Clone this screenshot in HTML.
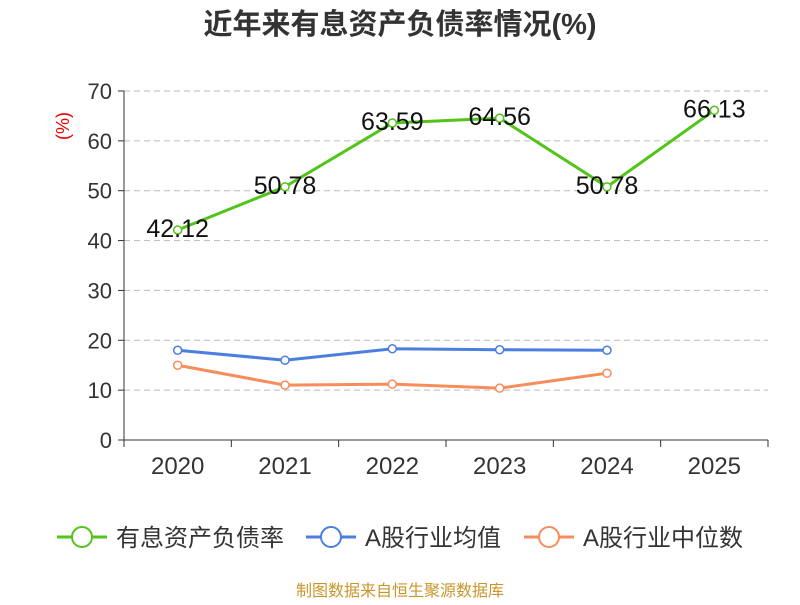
<!DOCTYPE html>
<html><head><meta charset="utf-8"><style>
body{margin:0;background:#fff;font-family:"Liberation Sans","Noto Sans CJK SC",sans-serif}
</style></head><body>
<svg id="c" width="800" height="600" xmlns="http://www.w3.org/2000/svg" font-family="Liberation Sans, Noto Sans CJK SC, sans-serif">
<text x="400" y="34" text-anchor="middle" font-size="29" font-weight="bold" fill="#333">近年来有息资产负债率情况(%)</text>
<text transform="translate(69,126) rotate(-90)" text-anchor="middle" font-size="18" fill="#e00">(%)</text>
<g id="grid"></g><g id="axes"></g><g id="series"></g>
<g font-size="24" fill="#333">
<g><line x1="57" y1="537" x2="107" y2="537" stroke="#52c41a" stroke-width="3"/><circle cx="82" cy="537" r="10" fill="#fff" stroke="#52c41a" stroke-width="2"/><text x="116" y="546">有息资产负债率</text></g>
<g><line x1="306" y1="537" x2="356" y2="537" stroke="#4a7fe0" stroke-width="3"/><circle cx="331" cy="537" r="10" fill="#fff" stroke="#4a7fe0" stroke-width="2"/><text x="365" y="546">A股行业均值</text></g>
<g><line x1="524" y1="537" x2="574" y2="537" stroke="#f88c5a" stroke-width="3"/><circle cx="549" cy="537" r="10" fill="#fff" stroke="#f88c5a" stroke-width="2"/><text x="583" y="546">A股行业中位数</text></g>
</g>
<text x="400" y="596" text-anchor="middle" font-size="16" fill="#c8962a">制图数据来自恒生聚源数据库</text>
</svg>
<script>
const categories=["2020","2021","2022","2023","2024","2025"];
const debtRatio=[42.12,50.78,63.59,64.56,50.78,66.13];
const industryMean=[18.0,16.0,18.3,18.1,18.0];
const industryMedian=[15.0,11.0,11.2,10.4,13.4];
const yTicks=[0,10,20,30,40,50,60,70];
const NS="http://www.w3.org/2000/svg";
const x0=124,x1=768,y0=440,yTop=91,yMax=70;
const bw=(x1-x0)/categories.length;
const xs=i=>x0+bw*(i+0.5);
const ys=v=>y0-(v/yMax)*(y0-yTop);
function mk(p,tag,a){const e=document.createElementNS(NS,tag);for(const k in a)e.setAttribute(k,a[k]);p.appendChild(e);return e;}
const grid=document.getElementById('grid'),axes=document.getElementById('axes'),ser=document.getElementById('series');
yTicks.forEach(t=>{
 if(t>0){const g=mk(grid,'line',{x1:x0,x2:x1,y1:ys(t),y2:ys(t),stroke:'#bbb','stroke-dasharray':'6,4'});
 
 }
 const tk=mk(axes,'line',{x1:x0-6,x2:x0,y1:ys(t),y2:ys(t),stroke:'#333'});
 
 
 const l=mk(axes,'text',{x:x0-12,y:ys(t)+8,'text-anchor':'end','font-size':22,fill:'#333'});l.textContent=t;
 
 
});
const ya=mk(axes,'line',{x1:x0,x2:x0,y1:yTop,y2:y0,stroke:'#333'});


const xa=mk(axes,'line',{x1:x0,x2:x1,y1:y0,y2:y0,stroke:'#333'});


for(let i=0;i<=categories.length;i++){const t=mk(axes,'line',{x1:x0+bw*i,x2:x0+bw*i,y1:y0,y2:y0+7,stroke:'#333'});
 
 }
categories.forEach((c,i)=>{const l=mk(axes,'text',{x:xs(i),y:474,'text-anchor':'middle','font-size':24,fill:'#333'});l.textContent=c;
 
 });
function series(vals,color,name,labels){
 const pts=vals.map((v,i)=>xs(i)+','+ys(v)).join(' ');
 const pl=mk(ser,'polyline',{points:pts,fill:'none',stroke:color,'stroke-width':3});
 
 
 vals.forEach((v,i)=>{const c=mk(ser,'circle',{cx:xs(i),cy:ys(v),r:4,fill:'#fff',stroke:color,'stroke-width':1.5});
  
  
  if(labels){const t=mk(ser,'text',{x:xs(i),y:ys(v)+7,'text-anchor':'middle','font-size':25,fill:'#111'});t.textContent=v.toFixed(2);
  
  }
 });
}
series(industryMedian,'#f88c5a','industry-median',false);
series(industryMean,'#4a7fe0','industry-mean',false);
series(debtRatio,'#52c41a','debt-ratio',true);
</script>
</body></html>
